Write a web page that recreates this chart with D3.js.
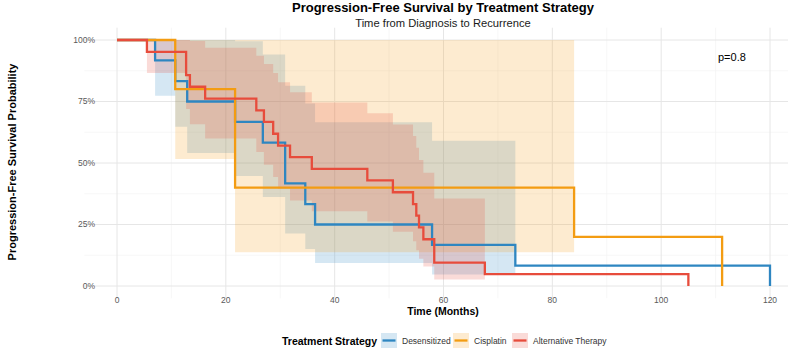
<!DOCTYPE html>
<html>
<head>
<meta charset="utf-8">
<script src="https://cdn.jsdelivr.net/npm/d3@7"></script>
<style>
  html, body { margin: 0; padding: 0; background: #fff; }
  svg { display: block; font-family: "Liberation Sans", Arial, sans-serif; }
</style>
</head>
<body>
<svg id="chart" width="788" height="349"></svg>
<script>
// ---- Data ----
const groups = ["Desensitized", "Cisplatin", "Alternative Therapy"];
const colors = ["#2E86C1", "#F39C12", "#E74C3C"];

const desTimes = [0, 7.0, 10.7, 12.9, 21.7, 26.8, 30.9, 34.6, 36.4, 57.9, 73.2, 120];
const desSurv  = [1, 0.917, 0.833, 0.75, 0.667, 0.583, 0.417, 0.333, 0.25, 0.167, 0.083, 0];
const desLower = [1, 0.773, 0.647, 0.541, 0.447, 0.362, 0.213, 0.150, 0.094, 0.047];
const desUpper = [1, 1, 1, 1, 0.995, 0.941, 0.814, 0.742, 0.666, 0.59];

const cisTimes = [0, 10.7, 21.7, 84.0, 111.2];
const cisSurv  = [1, 0.8, 0.4, 0.2, 0];
const cisLower = [1, 0.516, 0.137];
const cisUpper = [1, 1, 1];

const altTimes = [0, 5.5, 12.7, 13.4, 16.2, 25.6, 27.0, 28.7, 29.6, 31.8, 35.8, 46.0, 50.7, 54.4, 55.0, 55.5, 56.3, 58.3, 67.6, 105.0];
const altSurv  = [1, 0.952, 0.857, 0.810, 0.762, 0.714, 0.667, 0.619, 0.571, 0.524, 0.476, 0.429, 0.381, 0.333, 0.286, 0.238, 0.190, 0.095, 0.048, 0];
const altLower = [1, 0.866, 0.720, 0.658, 0.600, 0.545, 0.493, 0.443, 0.395, 0.348, 0.304, 0.262, 0.221, 0.182, 0.145, 0.111, 0.079, 0.026];
const altUpper = [1, 1, 1, 0.996, 0.968, 0.936, 0.902, 0.866, 0.828, 0.788, 0.746, 0.702, 0.657, 0.610, 0.562, 0.512, 0.460, 0.356];

const xTicks = [0, 20, 40, 60, 80, 100, 120];
const yTicks = [0, 0.25, 0.5, 0.75, 1];
const pValueText = "p=0.8";

// ---- Build ----
const series = [
  {name: groups[0], color: colors[0], t: desTimes, s: desSurv, lo: desLower, hi: desUpper},
  {name: groups[1], color: colors[1], t: cisTimes, s: cisSurv, lo: cisLower, hi: cisUpper},
  {name: groups[2], color: colors[2], t: altTimes, s: altSurv, lo: altLower, hi: altUpper}
];

const svg = d3.select("#chart");
const x = d3.scaleLinear().domain([0, 120]).range([117, 770]);
const y = d3.scaleLinear().domain([0, 1]).range([286, 40]);
const panelLeft = x(-6), panelRight = 788, panelTop = y(1.05), panelBottom = y(-0.05);

// grid
const grid = svg.append("g");
const xMinor = d3.range(10, 130, 20);
const yMinor = [0.125, 0.375, 0.625, 0.875];
grid.selectAll(".vmin").data(xMinor).enter().append("line")
  .attr("x1", d => x(d)).attr("x2", d => x(d)).attr("y1", panelTop).attr("y2", panelBottom)
  .attr("stroke", "#f2f2f2").attr("stroke-width", 0.6);
grid.selectAll(".hmin").data(yMinor).enter().append("line")
  .attr("x1", panelLeft).attr("x2", panelRight).attr("y1", d => y(d)).attr("y2", d => y(d))
  .attr("stroke", "#f2f2f2").attr("stroke-width", 0.6);
grid.selectAll(".vmaj").data(xTicks).enter().append("line")
  .attr("x1", d => x(d)).attr("x2", d => x(d)).attr("y1", panelTop).attr("y2", panelBottom)
  .attr("stroke", "#e6e6e6").attr("stroke-width", 1);
grid.selectAll(".hmaj").data(yTicks).enter().append("line")
  .attr("x1", panelLeft).attr("x2", panelRight).attr("y1", d => y(d)).attr("y2", d => y(d))
  .attr("stroke", "#e6e6e6").attr("stroke-width", 1);

// ribbons
const ribbonArea = d3.area()
  .x(d => x(d.t)).y0(d => y(d.lo)).y1(d => y(d.hi)).curve(d3.curveStepAfter);
series.forEach(sr => {
  const pts = sr.lo.map((lo, i) => ({t: sr.t[i], lo: lo, hi: sr.hi[i]}));
  const n = sr.lo.length;
  pts.push({t: sr.t[n], lo: sr.lo[n - 1], hi: sr.hi[n - 1]});
  svg.append("path").datum(pts).attr("d", ribbonArea)
    .attr("fill", sr.color).attr("fill-opacity", 0.2).attr("stroke", "none");
});

// lines
const stepLine = d3.line().x(d => x(d.t)).y(d => y(d.s)).curve(d3.curveStepAfter);
series.forEach(sr => {
  const pts = sr.t.map((t, i) => ({t: t, s: sr.s[i]}));
  svg.append("path").datum(pts).attr("d", stepLine)
    .attr("fill", "none").attr("stroke", sr.color).attr("stroke-width", 2.3);
});

// axes text
const axisG = svg.append("g").attr("font-size", 8.5).attr("fill", "#5a5a5a");
axisG.selectAll(".yt").data(yTicks).enter().append("text")
  .attr("x", 95).attr("y", d => y(d)).attr("dy", "0.35em").attr("text-anchor", "end")
  .attr("fill", "#5a5a5a").text(d => d3.format(".0%")(d));
axisG.selectAll(".xt").data(xTicks).enter().append("text")
  .attr("x", d => x(d)).attr("y", 303).attr("text-anchor", "middle")
  .attr("fill", "#5a5a5a").text(d => d);

svg.append("text").attr("x", 443).attr("y", 315).attr("text-anchor", "middle")
  .attr("font-size", 10.5).attr("font-weight", "bold").attr("fill", "#000").text("Time (Months)");
svg.append("text").attr("transform", "translate(16,162) rotate(-90)").attr("text-anchor", "middle")
  .attr("font-size", 11).attr("font-weight", "bold").attr("fill", "#000")
  .text("Progression-Free Survival Probability");

// titles
svg.append("text").attr("x", 443).attr("y", 12).attr("text-anchor", "middle")
  .attr("font-size", 13).attr("font-weight", "bold").attr("fill", "#000")
  .text("Progression-Free Survival by Treatment Strategy");
svg.append("text").attr("x", 443).attr("y", 26.5).attr("text-anchor", "middle")
  .attr("font-size", 11.2).attr("fill", "#1a1a1a")
  .text("Time from Diagnosis to Recurrence");

// p-value
svg.append("text").attr("x", 718).attr("y", 57).attr("dy", "0.35em")
  .attr("font-size", 11).attr("fill", "#000").text(pValueText);

// legend
const leg = svg.append("g");
leg.append("text").attr("x", 282).attr("y", 341).attr("dy", "0.35em")
  .attr("font-size", 10.5).attr("font-weight", "bold").attr("fill", "#000").text("Treatment Strategy");
const keyX = [381, 453, 512];
const labX = [402, 474, 533];
series.forEach((sr, i) => {
  leg.append("rect").attr("x", keyX[i]).attr("y", 333).attr("width", 16).attr("height", 15)
    .attr("fill", sr.color).attr("fill-opacity", 0.2);
  leg.append("line").attr("x1", keyX[i] + 1.5).attr("x2", keyX[i] + 14.5).attr("y1", 340.5).attr("y2", 340.5)
    .attr("stroke", sr.color).attr("stroke-width", 2.3);
  leg.append("text").attr("x", labX[i]).attr("y", 341).attr("dy", "0.35em")
    .attr("font-size", 8.5).attr("fill", "#333").text(sr.name);
});
</script>
</body>
</html>
